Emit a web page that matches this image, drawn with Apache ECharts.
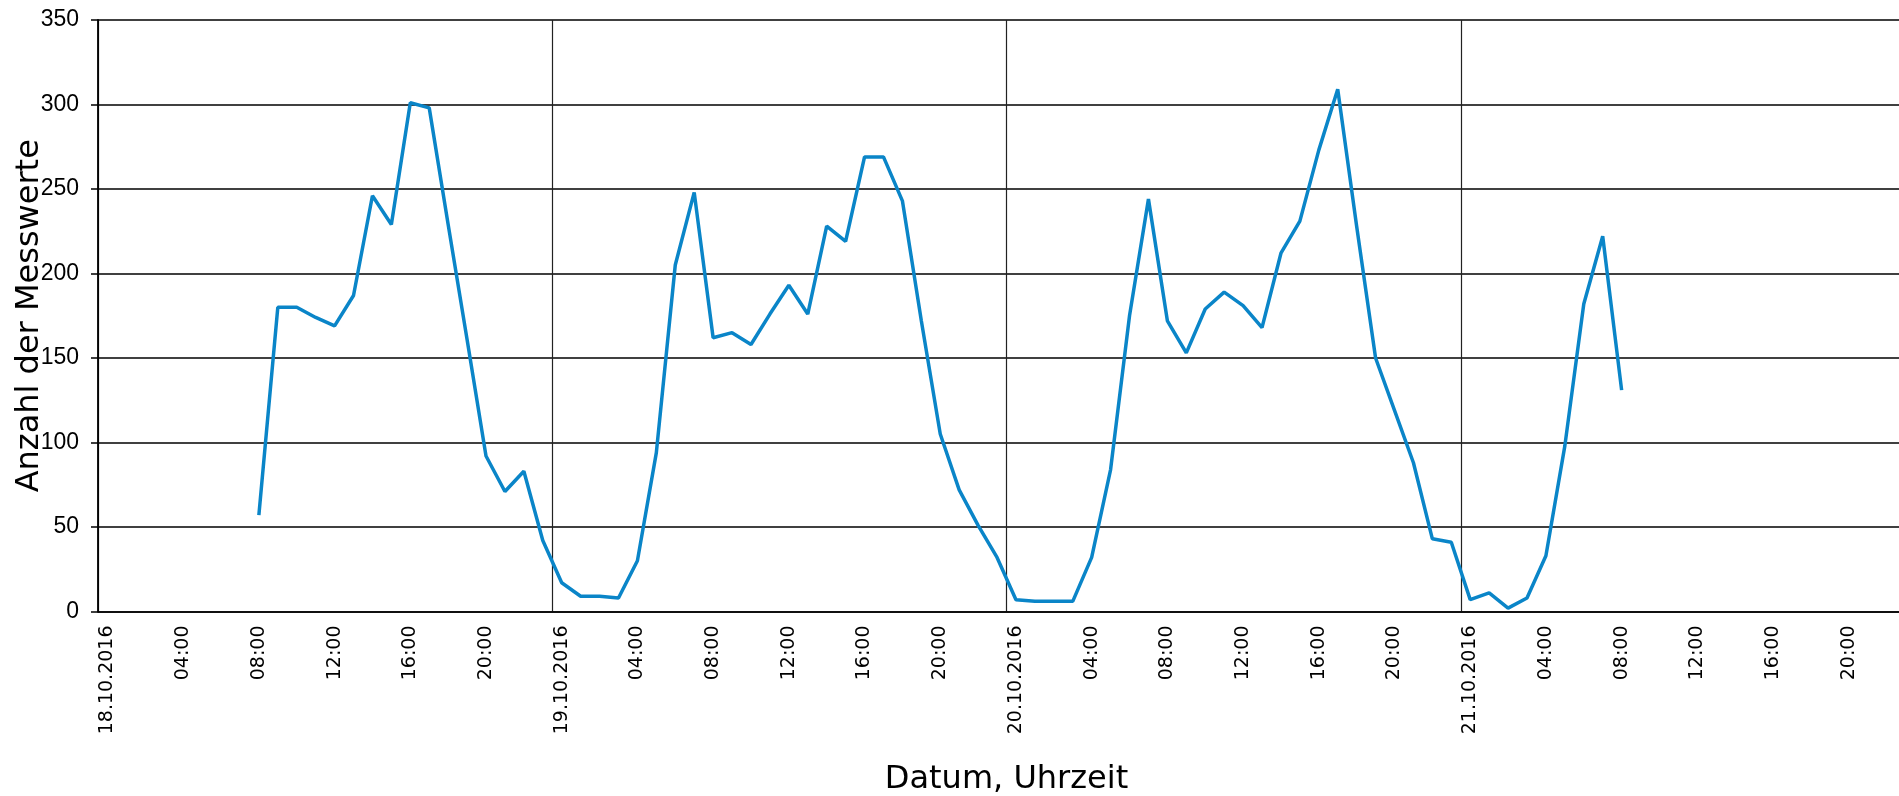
<!DOCTYPE html>
<html>
<head>
<meta charset="utf-8">
<script src="https://cdn.jsdelivr.net/npm/echarts@6/dist/echarts.min.js"></script>
<style>
html,body{margin:0;padding:0;background:#fff;}
#chart{width:1899px;height:796px;}
</style>
</head>
<body>
<div id="chart"></div>
<script>
// Day labels (shown at midnight) and hour labels
var days = ['18.10.2016', '19.10.2016', '20.10.2016', '21.10.2016'];
var hours = ['00:00','01:00','02:00','03:00','04:00','05:00','06:00','07:00',
             '08:00','09:00','10:00','11:00','12:00','13:00','14:00','15:00',
             '16:00','17:00','18:00','19:00','20:00','21:00','22:00','23:00'];

// Hourly counts per day (null = no measurement)
var values18 = [null,null,null,null,null,null,null,null,
                57,180,180,174,169,187,246,229,301,298,229,161,92,71,83,42];
var values19 = [17,9,9,8,30,94,205,248,162,165,158,176,
                193,176,228,219,269,269,243,172,105,72,51,32];
var values20 = [7,6,6,6,32,84,175,244,172,153,179,189,
                181,168,212,231,273,309,228,150,119,88,43,41];
var values21 = [7,11,2,8,33,98,182,222,131,null,null,null,
                null,null,null,null,null,null,null,null,null,null,null,null];

var categories = [];
days.forEach(function (d) {
  hours.forEach(function (h, i) { categories.push(i === 0 ? d : h); });
});
var seriesData = values18.concat(values19, values20, values21);

var chart = echarts.init(document.getElementById('chart'), null, {renderer: 'canvas'});
chart.setOption({
  animation: false,
  backgroundColor: '#ffffff',
  grid: {left: 98, top: 20, width: 1817, bottom: 184.5, containLabel: false, outerBoundsMode: 'none'},
  xAxis: {
    type: 'category',
    data: categories,
    boundaryGap: true,
    name: 'Datum, Uhrzeit',
    nameLocation: 'middle',
    nameGap: 152,
    nameTextStyle: {fontFamily: 'DejaVu Sans', fontSize: 32, color: '#000'},
    axisLine: {show: true, lineStyle: {color: '#000', width: 1.5}},
    axisTick: {show: false},
    axisLabel: {
      interval: 3, rotate: 90, margin: 14,
      fontFamily: 'DejaVu Sans', fontSize: 19, color: '#000'
    },
    splitLine: {
      show: true,
      interval: function (idx) { return idx % 24 === 0; },
      lineStyle: {color: '#222', width: 1.2}
    }
  },
  yAxis: {
    type: 'value',
    min: 0, max: 350, interval: 50,
    name: 'Anzahl der Messwerte',
    nameLocation: 'middle',
    nameGap: 52,
    nameMoveOverlap: false,
    nameTextStyle: {fontFamily: 'DejaVu Sans', fontSize: 32, color: '#000'},
    axisLine: {show: true, lineStyle: {color: '#000', width: 1.8}},
    axisTick: {show: true, length: 7, lineStyle: {color: '#000', width: 1.5}},
    axisLabel: {margin: 19, fontFamily: 'Liberation Sans', fontSize: 23, color: '#000'},
    splitLine: {show: true, lineStyle: {color: '#000', width: 1.5}}
  },
  series: [{
    type: 'line',
    data: seriesData,
    showSymbol: false,
    connectNulls: false,
    lineStyle: {color: '#0a85c8', width: 3.5},
    itemStyle: {color: '#0a85c8'}
  }]
});
</script>
</body>
</html>
